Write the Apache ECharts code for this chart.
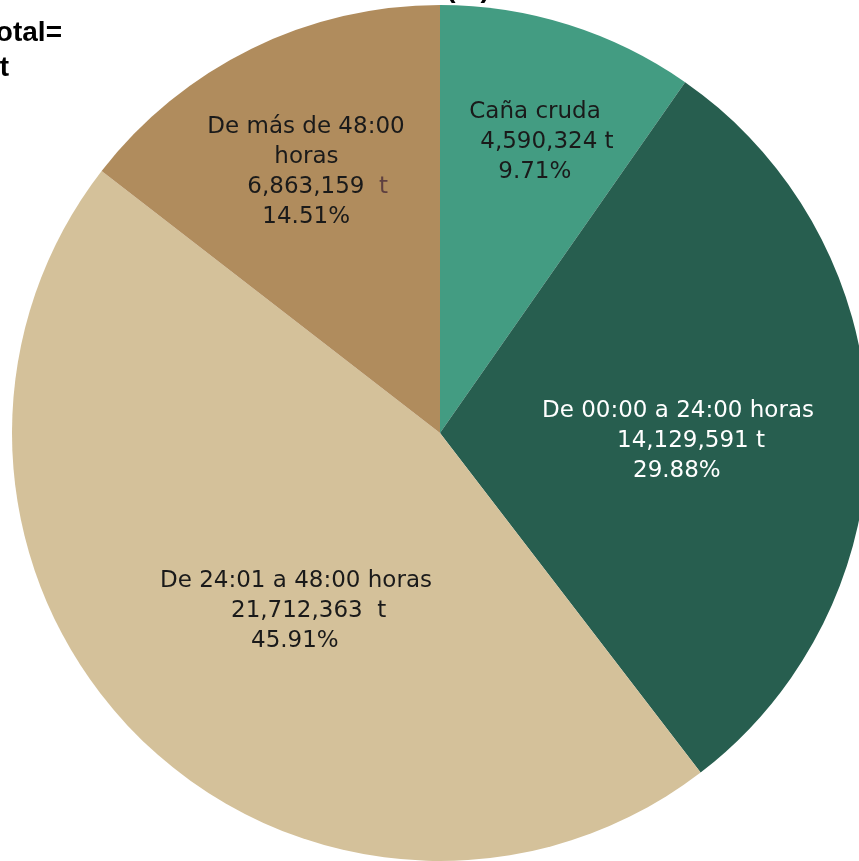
<!DOCTYPE html>
<html>
<head>
<meta charset="utf-8">
<script src="https://cdn.jsdelivr.net/npm/echarts@6/dist/echarts.min.js"></script>
<style>
html,body{margin:0;padding:0;background:#fff;}
#chart{width:859px;height:861px;}
</style>
</head>
<body>
<div id="chart"></div>
<script>
// ---- data ----
const categories = ['Caña cruda', 'De 00:00 a 24:00 horas', 'De 24:01 a 48:00 horas', 'De más de 48:00 horas'];
const values = [4590324, 14129591, 21712363, 6863159];
const percents = ['9.71%', '29.88%', '45.91%', '14.51%'];
const unit = 't';
const titleText = '(%)';
const totalPrefix = 'Total=';

// ---- styles / layout ----
const colors = ['#439C82', '#275E4F', '#D4C19A', '#B08C5D'];
const textColors = ['#1a1a1a', '#ffffff', '#1a1a1a', '#1a1a1a'];
const unitColors = ['#1a1a1a', '#ffffff', '#1a1a1a', '#5e4040'];
const FONT_SIZE = 23;
const FONT_FAMILY = 'DejaVu Sans';
const LINE_H = 30;
// line splits of category names (display only), and line centers / first-line center y
const nameLines = [['Caña cruda'], ['De 00:00 a 24:00 horas'], ['De 24:01 a 48:00 horas'], ['De más de 48:00', 'horas']];
const lineCenters = [[535, 547, 535], [678, 691, 677], [296, 309, 295], [306, 306, 318, 306]];
const firstLineY = [112, 411, 581, 127];
const unitSep = [' ', ' ', '  ', '  '];

const fmt = v => v.toLocaleString('en-US');
const total = values.reduce((a, b) => a + b, 0);

const ctx = document.createElement('canvas').getContext('2d');
ctx.font = FONT_SIZE + 'px "' + FONT_FAMILY + '"';
const measure = s => ctx.measureText(s).width;

const layouts = [];
const data = categories.map((name, i) => {
  const lines = nameLines[i].slice();
  const numLine = fmt(values[i]);
  const allLines = lines.concat([numLine + unitSep[i] + unit, percents[i]]);
  const widths = allLines.map(measure);
  const lefts = allLines.map((s, k) => lineCenters[i][k] - widths[k] / 2);
  const x0 = Math.min.apply(null, lefts);
  const pads = lefts.map(l => Math.round(l - x0));
  const rich = {};
  let parts = [];
  allLines.forEach((s, k) => {
    rich['l' + k] = {
      fontSize: FONT_SIZE, fontFamily: FONT_FAMILY, color: textColors[i],
      lineHeight: LINE_H, padding: [0, 0, 0, pads[k]]
    };
  });
  rich.u = { fontSize: FONT_SIZE, fontFamily: FONT_FAMILY, color: unitColors[i], lineHeight: LINE_H };
  lines.forEach((s, k) => parts.push('{l' + k + '|' + s + '}'));
  const nk = lines.length;
  parts.push('{l' + nk + '|' + numLine + '}{u|' + unitSep[i] + unit + '}');
  parts.push('{l' + (nk + 1) + '|' + percents[i] + '}');
  const str = parts.join('\n');
  layouts.push({ x: x0, y: firstLineY[i] - LINE_H / 2 });
  return {
    name: name,
    value: values[i],
    itemStyle: { color: colors[i] },
    label: { formatter: () => str, rich: rich }
  };
});

const chart = echarts.init(document.getElementById('chart'), null, { renderer: 'canvas' });
chart.setOption({
  animation: false,
  backgroundColor: '#ffffff',
  graphic: [
    { type: 'text', x: 62, y: 33, style: { text: totalPrefix, font: 'bold 28px "Liberation Sans"', fill: '#000', align: 'right', verticalAlign: 'middle', textAlign: 'right', textVerticalAlign: 'middle' } },
    { type: 'text', x: 9, y: 68, style: { text: fmt(total) + ' ' + unit, font: 'bold 28px "Liberation Sans"', fill: '#000', align: 'right', verticalAlign: 'middle', textAlign: 'right', textVerticalAlign: 'middle' } },
    { type: 'text', x: 468, y: -11, style: { text: titleText, font: 'bold 28px "Liberation Sans"', fill: '#000', align: 'center', verticalAlign: 'middle', textAlign: 'center', textVerticalAlign: 'middle' } }
  ],
  series: [{
    type: 'pie',
    center: [440, 433],
    radius: 428,
    startAngle: 90,
    clockwise: true,
    avoidLabelOverlap: false,
    emphasis: { disabled: true },
    itemStyle: { borderWidth: 0 },
    label: { show: true, position: 'inside' },
    labelLine: { show: false },
    labelLayout: function (params) {
      const l = layouts[params.dataIndex];
      return { x: l.x, y: l.y, align: 'left', verticalAlign: 'top' };
    },
    data: data
  }]
});
</script>
</body>
</html>
